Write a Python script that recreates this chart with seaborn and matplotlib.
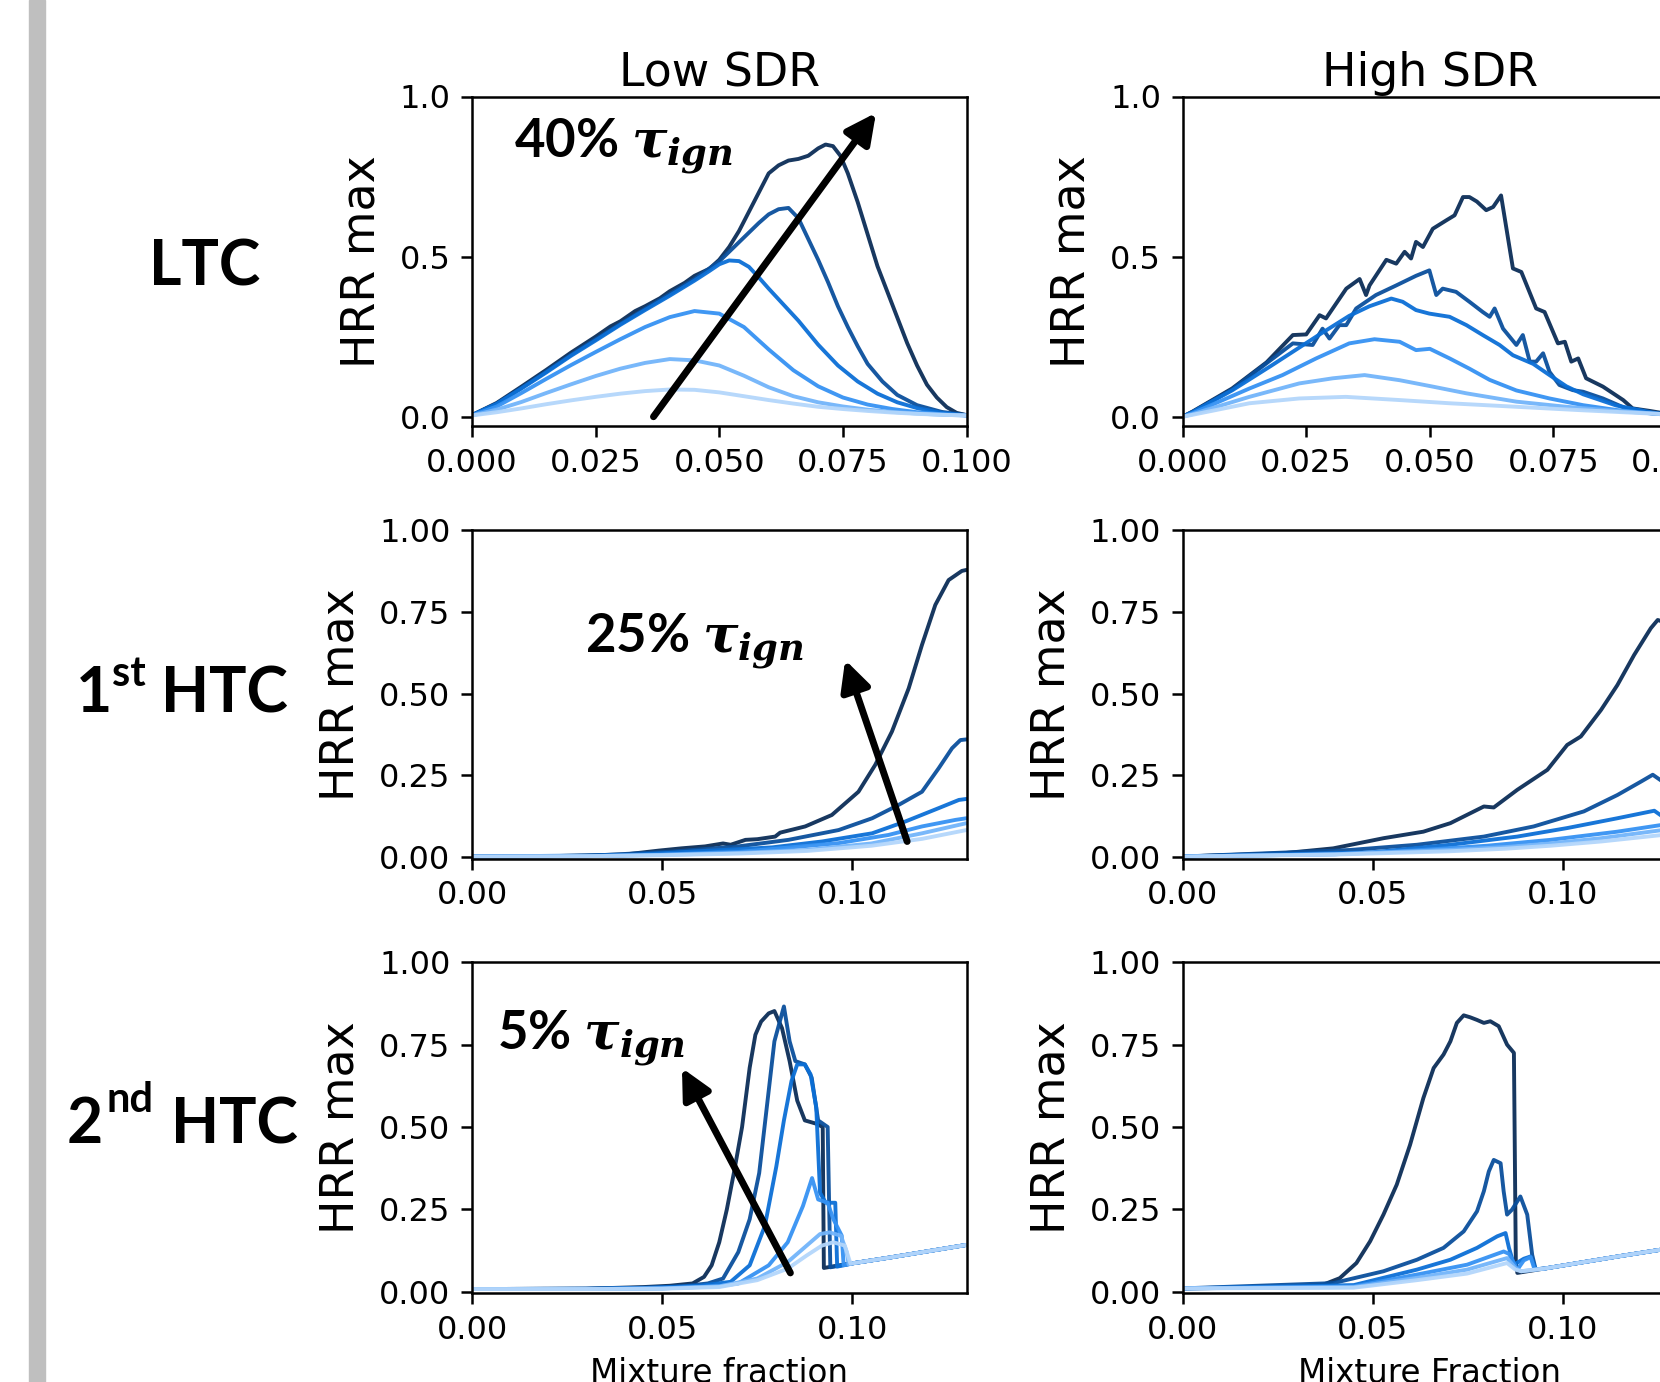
import pandas as pd
import matplotlib.pyplot as plt
from matplotlib.patches import Rectangle
import seaborn as sns

# HRR max vs mixture fraction, curves listed from lightest (earliest) to darkest (latest)
stages = ["t1", "t2", "t3", "t4", "t5", "t6"]
stage_colors = ["#b3d6fb", "#72b4fa", "#3592f3", "#0b6fd6", "#0a4f9c", "#0b2d57"]

# ---- LTC, low SDR
ltc_low_x = [
    [0.000, 0.005, 0.010, 0.015, 0.020, 0.025, 0.030, 0.035, 0.040, 0.045, 0.050, 0.055, 0.060, 0.065, 0.070, 0.075, 0.080, 0.085, 0.090, 0.095, 0.100],
    [0.000, 0.005, 0.010, 0.015, 0.020, 0.025, 0.030, 0.035, 0.040, 0.045, 0.050, 0.055, 0.060, 0.065, 0.070, 0.075, 0.080, 0.085, 0.090, 0.095, 0.100],
    [0.000, 0.005, 0.010, 0.015, 0.020, 0.025, 0.030, 0.035, 0.040, 0.045, 0.050, 0.055, 0.060, 0.065, 0.070, 0.075, 0.080, 0.085, 0.090, 0.095, 0.100],
    [0.000, 0.005, 0.010, 0.015, 0.020, 0.025, 0.030, 0.035, 0.040, 0.045, 0.048, 0.050, 0.052, 0.054, 0.056, 0.058, 0.060, 0.063, 0.066, 0.070, 0.074, 0.078, 0.082, 0.086, 0.090, 0.095, 0.100],
    [0.000, 0.005, 0.010, 0.015, 0.020, 0.025, 0.030, 0.035, 0.040, 0.045, 0.050, 0.053, 0.056, 0.058, 0.060, 0.062, 0.064, 0.066, 0.068, 0.070, 0.072, 0.074, 0.076, 0.078, 0.080, 0.083, 0.086, 0.090, 0.095, 0.100],
    [0.000, 0.005, 0.010, 0.015, 0.020, 0.025, 0.028, 0.030, 0.033, 0.035, 0.038, 0.040, 0.043, 0.045, 0.048, 0.050, 0.052, 0.054, 0.056, 0.058, 0.060, 0.062, 0.064, 0.066, 0.068, 0.070, 0.0715, 0.073, 0.0745, 0.076, 0.078, 0.080, 0.082, 0.084, 0.086, 0.088, 0.090, 0.092, 0.094, 0.096, 0.098, 0.100],
]
ltc_low_y = [
    [0.004, 0.014, 0.026, 0.039, 0.051, 0.062, 0.072, 0.080, 0.085, 0.084, 0.076, 0.064, 0.052, 0.041, 0.031, 0.024, 0.018, 0.013, 0.009, 0.006, 0.004],
    [0.004, 0.022, 0.046, 0.074, 0.101, 0.127, 0.150, 0.168, 0.180, 0.176, 0.160, 0.128, 0.092, 0.064, 0.045, 0.032, 0.022, 0.015, 0.010, 0.006, 0.004],
    [0.004, 0.032, 0.074, 0.118, 0.161, 0.202, 0.242, 0.280, 0.311, 0.330, 0.322, 0.280, 0.210, 0.145, 0.095, 0.060, 0.038, 0.024, 0.014, 0.008, 0.004],
    [0.005, 0.040, 0.088, 0.138, 0.190, 0.238, 0.287, 0.333, 0.378, 0.425, 0.455, 0.476, 0.488, 0.486, 0.468, 0.435, 0.400, 0.350, 0.300, 0.225, 0.160, 0.110, 0.072, 0.045, 0.027, 0.012, 0.004],
    [0.005, 0.041, 0.090, 0.141, 0.193, 0.242, 0.290, 0.337, 0.383, 0.430, 0.485, 0.530, 0.575, 0.605, 0.632, 0.648, 0.652, 0.620, 0.555, 0.490, 0.420, 0.345, 0.280, 0.220, 0.165, 0.110, 0.068, 0.036, 0.015, 0.005],
    [0.005, 0.043, 0.094, 0.146, 0.200, 0.250, 0.282, 0.298, 0.330, 0.345, 0.370, 0.392, 0.418, 0.440, 0.462, 0.490, 0.530, 0.580, 0.640, 0.700, 0.760, 0.785, 0.800, 0.805, 0.815, 0.838, 0.850, 0.845, 0.815, 0.760, 0.670, 0.570, 0.470, 0.390, 0.310, 0.230, 0.160, 0.100, 0.060, 0.030, 0.012, 0.005],
]

# ---- LTC, high SDR
ltc_high_x = [
    [0.000, 0.002, 0.0135, 0.0236, 0.033, 0.0439, 0.054, 0.0675, 0.081, 0.0945, 0.100],
    [0.000, 0.002, 0.0135, 0.0236, 0.0304, 0.0368, 0.0439, 0.0506, 0.0574, 0.0675, 0.0776, 0.0877, 0.100],
    [0.000, 0.002, 0.0135, 0.0202, 0.027, 0.0337, 0.0388, 0.0439, 0.0472, 0.050, 0.054, 0.058, 0.0621, 0.0675, 0.0742, 0.081, 0.0877, 0.095, 0.100],
    [0.000, 0.002, 0.010, 0.018, 0.027, 0.0337, 0.0378, 0.0422, 0.0445, 0.0472, 0.0499, 0.054, 0.0574, 0.0607, 0.0641, 0.0668, 0.0709, 0.0742, 0.0776, 0.081, 0.0877, 0.095, 0.100],
    [0.000, 0.002, 0.010, 0.0169, 0.0223, 0.0263, 0.0283, 0.0297, 0.0317, 0.0331, 0.0351, 0.0391, 0.0432, 0.0472, 0.0499, 0.0513, 0.0526, 0.0553, 0.058, 0.0607, 0.0621, 0.0631, 0.0648, 0.0675, 0.0688, 0.0702, 0.0715, 0.0729, 0.0742, 0.0762, 0.0789, 0.081, 0.085, 0.0904, 0.095, 0.100],
    [0.000, 0.002, 0.010, 0.017, 0.0223, 0.025, 0.0277, 0.029, 0.0331, 0.0358, 0.0371, 0.0378, 0.0412, 0.0432, 0.0449, 0.0462, 0.0472, 0.0486, 0.0506, 0.0533, 0.055, 0.0567, 0.058, 0.0595, 0.0614, 0.0628, 0.0644, 0.0668, 0.0685, 0.0715, 0.0732, 0.0759, 0.0773, 0.0786, 0.080, 0.0816, 0.085, 0.0891, 0.091, 0.0945, 0.0968, 0.100],
]
ltc_high_y = [
    [0.000, 0.006, 0.042, 0.057, 0.062, 0.052, 0.042, 0.031, 0.020, 0.010, 0.006],
    [0.000, 0.008, 0.062, 0.104, 0.120, 0.130, 0.114, 0.094, 0.073, 0.047, 0.031, 0.018, 0.005],
    [0.000, 0.011, 0.088, 0.130, 0.182, 0.229, 0.242, 0.234, 0.208, 0.212, 0.182, 0.150, 0.115, 0.082, 0.057, 0.036, 0.021, 0.010, 0.004],
    [0.000, 0.014, 0.082, 0.160, 0.250, 0.315, 0.345, 0.369, 0.359, 0.333, 0.322, 0.312, 0.286, 0.255, 0.224, 0.192, 0.165, 0.130, 0.095, 0.070, 0.035, 0.013, 0.004],
    [0.000, 0.015, 0.085, 0.166, 0.229, 0.224, 0.275, 0.244, 0.286, 0.286, 0.338, 0.380, 0.410, 0.440, 0.457, 0.380, 0.400, 0.390, 0.359, 0.327, 0.312, 0.338, 0.275, 0.224, 0.255, 0.172, 0.172, 0.198, 0.140, 0.099, 0.083, 0.078, 0.057, 0.021, 0.010, 0.004],
    [0.000, 0.016, 0.088, 0.170, 0.255, 0.257, 0.317, 0.307, 0.400, 0.430, 0.380, 0.410, 0.490, 0.478, 0.515, 0.494, 0.546, 0.530, 0.587, 0.613, 0.629, 0.686, 0.686, 0.672, 0.645, 0.655, 0.691, 0.463, 0.452, 0.338, 0.327, 0.229, 0.234, 0.172, 0.182, 0.120, 0.094, 0.052, 0.026, 0.018, 0.012, 0.005],
]

# ---- 1st HTC, low SDR
htc1_low_x = [
    [0.000, 0.030, 0.050, 0.070, 0.088, 0.105, 0.1183, 0.130],
    [0.000, 0.030, 0.050, 0.070, 0.088, 0.105, 0.1183, 0.130],
    [0.000, 0.030, 0.050, 0.070, 0.0964, 0.1095, 0.1183, 0.1271, 0.130],
    [0.000, 0.040, 0.0789, 0.092, 0.1052, 0.1139, 0.1227, 0.128, 0.130],
    [0.000, 0.030, 0.0526, 0.070, 0.0832, 0.0964, 0.1052, 0.1122, 0.1183, 0.1227, 0.1262, 0.1284, 0.130],
    [0.000, 0.020, 0.040, 0.049, 0.055, 0.0613, 0.066, 0.068, 0.0719, 0.075, 0.0797, 0.081, 0.0876, 0.0946, 0.1016, 0.106, 0.1104, 0.1148, 0.1183, 0.1218, 0.1253, 0.1288, 0.130],
]
htc1_low_y = [
    [0.002, 0.003, 0.006, 0.011, 0.019, 0.035, 0.056, 0.083],
    [0.002, 0.003, 0.007, 0.013, 0.022, 0.042, 0.073, 0.104],
    [0.002, 0.003, 0.008, 0.016, 0.043, 0.068, 0.094, 0.114, 0.119],
    [0.002, 0.006, 0.030, 0.048, 0.073, 0.109, 0.150, 0.175, 0.178],
    [0.002, 0.004, 0.017, 0.033, 0.053, 0.083, 0.119, 0.160, 0.200, 0.272, 0.333, 0.358, 0.360],
    [0.002, 0.003, 0.008, 0.020, 0.027, 0.033, 0.042, 0.038, 0.053, 0.055, 0.063, 0.075, 0.094, 0.129, 0.200, 0.282, 0.384, 0.516, 0.649, 0.771, 0.847, 0.875, 0.878],
]

# ---- 1st HTC, high SDR
htc1_high_x = [
    [0.000, 0.040, 0.070, 0.085, 0.0967, 0.110, 0.1262],
    [0.000, 0.040, 0.070, 0.085, 0.0967, 0.110, 0.1262],
    [0.000, 0.040, 0.060, 0.080, 0.0967, 0.1143, 0.1262],
    [0.000, 0.050, 0.0704, 0.088, 0.1011, 0.1143, 0.124, 0.1262],
    [0.000, 0.044, 0.0616, 0.0792, 0.0923, 0.1055, 0.1143, 0.1205, 0.1236, 0.1262],
    [0.000, 0.0264, 0.0396, 0.0528, 0.0633, 0.0704, 0.0792, 0.0818, 0.088, 0.0959, 0.1011, 0.1047, 0.110, 0.1143, 0.1187, 0.1231, 0.1249, 0.1262],
]
htc1_high_y = [
    [0.002, 0.008, 0.018, 0.026, 0.035, 0.048, 0.068],
    [0.002, 0.009, 0.022, 0.031, 0.042, 0.058, 0.083],
    [0.002, 0.009, 0.020, 0.035, 0.053, 0.078, 0.099],
    [0.002, 0.015, 0.038, 0.063, 0.089, 0.119, 0.142, 0.124],
    [0.002, 0.022, 0.038, 0.063, 0.094, 0.140, 0.190, 0.231, 0.252, 0.231],
    [0.002, 0.012, 0.027, 0.058, 0.078, 0.104, 0.155, 0.152, 0.206, 0.267, 0.343, 0.369, 0.450, 0.526, 0.618, 0.700, 0.725, 0.720],
]

# ---- 2nd HTC, low SDR
htc2_low_x = [
    [0.000, 0.030, 0.050, 0.065, 0.075, 0.083, 0.088, 0.092, 0.095, 0.098, 0.0995, 0.100, 0.110, 0.120, 0.130],
    [0.000, 0.030, 0.050, 0.065, 0.075, 0.083, 0.088, 0.0915, 0.094, 0.097, 0.0985, 0.099, 0.100, 0.110, 0.120, 0.130],
    [0.000, 0.030, 0.050, 0.065, 0.070, 0.078, 0.083, 0.087, 0.0894, 0.091, 0.0935, 0.095, 0.0972, 0.0977, 0.100, 0.110, 0.120, 0.130],
    [0.000, 0.030, 0.045, 0.060, 0.068, 0.073, 0.077, 0.080, 0.082, 0.084, 0.0855, 0.0875, 0.089, 0.0905, 0.0915, 0.093, 0.0955, 0.096, 0.100, 0.110, 0.120, 0.130],
    [0.000, 0.030, 0.045, 0.055, 0.062, 0.066, 0.070, 0.073, 0.0755, 0.0775, 0.0795, 0.082, 0.0835, 0.085, 0.0875, 0.0893, 0.091, 0.0935, 0.0942, 0.100, 0.110, 0.120, 0.130],
    [0.000, 0.030, 0.045, 0.052, 0.058, 0.061, 0.063, 0.065, 0.067, 0.069, 0.071, 0.073, 0.0745, 0.076, 0.078, 0.0795, 0.0815, 0.0835, 0.0855, 0.0875, 0.0905, 0.0922, 0.0925, 0.095, 0.100, 0.110, 0.120, 0.130],
]
htc2_low_y = [
    [0.008, 0.008, 0.009, 0.014, 0.035, 0.070, 0.110, 0.140, 0.150, 0.140, 0.085, 0.086, 0.104, 0.123, 0.142],
    [0.008, 0.008, 0.010, 0.016, 0.040, 0.090, 0.140, 0.175, 0.180, 0.170, 0.120, 0.083, 0.086, 0.104, 0.123, 0.142],
    [0.008, 0.008, 0.010, 0.017, 0.025, 0.080, 0.150, 0.260, 0.345, 0.280, 0.270, 0.220, 0.170, 0.080, 0.086, 0.104, 0.123, 0.142],
    [0.008, 0.009, 0.011, 0.018, 0.030, 0.080, 0.200, 0.380, 0.520, 0.640, 0.690, 0.690, 0.660, 0.560, 0.300, 0.270, 0.270, 0.076, 0.086, 0.104, 0.123, 0.142],
    [0.008, 0.009, 0.012, 0.016, 0.025, 0.040, 0.120, 0.220, 0.360, 0.560, 0.760, 0.866, 0.760, 0.700, 0.690, 0.650, 0.520, 0.500, 0.074, 0.086, 0.104, 0.123, 0.142],
    [0.008, 0.009, 0.014, 0.018, 0.025, 0.045, 0.080, 0.150, 0.250, 0.370, 0.500, 0.680, 0.780, 0.820, 0.845, 0.852, 0.800, 0.700, 0.580, 0.520, 0.510, 0.500, 0.072, 0.077, 0.086, 0.104, 0.123, 0.142],
]

# ---- 2nd HTC, high SDR
htc2_high_x = [
    [0.000, 0.045, 0.0616, 0.0748, 0.0853, 0.0875, 0.089, 0.095, 0.105, 0.115, 0.126],
    [0.000, 0.045, 0.0616, 0.0748, 0.0853, 0.0875, 0.089, 0.095, 0.105, 0.115, 0.126],
    [0.000, 0.045, 0.0616, 0.0748, 0.0844, 0.0858, 0.088, 0.0897, 0.0915, 0.0925, 0.095, 0.105, 0.115, 0.126],
    [0.000, 0.045, 0.0616, 0.0704, 0.0774, 0.0827, 0.0849, 0.0858, 0.0871, 0.0897, 0.0915, 0.0928, 0.095, 0.105, 0.115, 0.126],
    [0.000, 0.0396, 0.0528, 0.0616, 0.0686, 0.0739, 0.0774, 0.0792, 0.0805, 0.0818, 0.0836, 0.0844, 0.0853, 0.0866, 0.0888, 0.0906, 0.0919, 0.0928, 0.095, 0.105, 0.115, 0.126],
    [0.000, 0.0264, 0.0369, 0.0413, 0.0457, 0.0493, 0.0528, 0.0563, 0.0598, 0.0633, 0.066, 0.0686, 0.0704, 0.0721, 0.0739, 0.0756, 0.0774, 0.0792, 0.0809, 0.0831, 0.0853, 0.0871, 0.0876, 0.088, 0.095, 0.105, 0.115, 0.126],
]
htc2_high_y = [
    [0.010, 0.012, 0.035, 0.055, 0.087, 0.067, 0.062, 0.070, 0.089, 0.108, 0.128],
    [0.010, 0.014, 0.042, 0.067, 0.102, 0.072, 0.062, 0.070, 0.089, 0.108, 0.128],
    [0.010, 0.016, 0.052, 0.082, 0.122, 0.115, 0.067, 0.095, 0.105, 0.068, 0.070, 0.089, 0.108, 0.128],
    [0.010, 0.020, 0.067, 0.097, 0.133, 0.168, 0.178, 0.133, 0.082, 0.100, 0.107, 0.068, 0.070, 0.089, 0.108, 0.128],
    [0.010, 0.026, 0.062, 0.097, 0.133, 0.183, 0.244, 0.305, 0.365, 0.400, 0.390, 0.305, 0.234, 0.249, 0.289, 0.234, 0.112, 0.068, 0.070, 0.089, 0.108, 0.128],
    [0.010, 0.013, 0.021, 0.041, 0.087, 0.153, 0.234, 0.325, 0.446, 0.588, 0.679, 0.720, 0.760, 0.816, 0.839, 0.833, 0.825, 0.816, 0.821, 0.806, 0.750, 0.725, 0.090, 0.057, 0.070, 0.089, 0.108, 0.128],
]

col_titles = ["Low SDR", "High SDR"]
xlabels = ["Mixture fraction", "Mixture Fraction"]
annot_text = [r"40% $\tau_{ign}$", r"25% $\tau_{ign}$", r"5% $\tau_{ign}$"]
annot_pos = [(0.0084, 0.811), (0.0296, 0.625), (0.0066, 0.735)]
arrow_tail = [(0.0367, 0.0), (0.1144, 0.048), (0.0837, 0.057)]
arrow_tip = [(0.0817, 0.949), (0.0981, 0.603), (0.0552, 0.679)]


def curves_frame(xs, ys):
    parts = []
    for st, x, y in zip(stages, xs, ys):
        parts.append(pd.DataFrame({"Z": x, "HRR": y, "stage": st}))
    return pd.concat(parts, ignore_index=True)


sns.set_style("ticks", {"axes.edgecolor": "black", "xtick.color": "black", "ytick.color": "black",
                        "text.color": "black", "axes.labelcolor": "black"})
plt.rcParams["font.family"] = ["DejaVu Sans"]
plt.rcParams["mathtext.fontset"] = "custom"
plt.rcParams["mathtext.it"] = "DejaVu Serif:italic:bold"
plt.rcParams["mathtext.rm"] = "DejaVu Serif:bold"

W, H = 1660, 1382
fig = plt.figure(figsize=(W / 100, H / 100), dpi=100)


def fx(p):
    return p / W


def fy(p):
    return 1 - p / H


# grey slide bar on the left
fig.add_artist(Rectangle((fx(29), 0), 16 / W, 1, transform=fig.transFigure, color="#bfbfbf", zorder=0))

panels = [
    [(ltc_low_x, ltc_low_y), (ltc_high_x, ltc_high_y)],
    [(htc1_low_x, htc1_low_y), (htc1_high_x, htc1_high_y)],
    [(htc2_low_x, htc2_low_y), (htc2_high_x, htc2_high_y)],
]

col_left = [472, 1182.6]
ax_w = 494.5
row_top = [96.5, 530, 962.3]
row_bot = [426, 858.5, 1293]
ylims = [(-0.029, 1.0), (-0.004, 1.0), (-0.004, 1.0)]
pal = dict(zip(stages, stage_colors))

for r in range(3):
    for c in range(2):
        ax = fig.add_axes([fx(col_left[c]), fy(row_bot[r]), ax_w / W, (row_bot[r] - row_top[r]) / H])
        xs, ys = panels[r][c]
        df = curves_frame(xs, ys)
        sns.lineplot(data=df, x="Z", y="HRR", hue="stage", hue_order=stages[::-1], palette=pal,
                     estimator=None, sort=False, legend=False, linewidth=2.8, alpha=0.95, ax=ax)
        if r == 0:
            ax.set_xlim(0, 0.1)
            ax.set_xticks([0, 0.025, 0.05, 0.075, 0.1])
            ax.set_yticks([0, 0.5, 1.0])
            ax.set_title(col_titles[c], fontsize=33, pad=7)
        else:
            ax.set_xlim(0, 0.13)
            ax.set_xticks([0, 0.05, 0.10])
            ax.set_yticks([0, 0.25, 0.5, 0.75, 1.0])
        ax.set_ylim(*ylims[r])
        ax.set_ylabel("HRR max", fontsize=33, labelpad=11)
        if r == 2:
            ax.set_xlabel(xlabels[c], fontsize=23.5, labelpad=8)
        else:
            ax.set_xlabel("")
        ax.tick_params(labelsize=23, length=8, width=1.8, pad=7.5)
        for s in ax.spines.values():
            s.set_visible(True)
            s.set_linewidth(1.8)
            s.set_color("black")

        if c == 0:
            ax.annotate("", xy=arrow_tip[r], xytext=arrow_tail[r],
                        arrowprops=dict(arrowstyle="-|>,head_length=0.9,head_width=0.45",
                                        lw=5, color="black", mutation_scale=20,
                                        shrinkA=0, shrinkB=0))
            ax.text(annot_pos[r][0], annot_pos[r][1], annot_text[r], fontsize=38,
                    fontweight="bold", family=["Lato", "DejaVu Sans"], ha="left", va="baseline")

# row labels
lab_font = ["Lato", "DejaVu Sans"]
big = 45
sup = 30
fig.text(fx(204.8), fy(286), "LTC", fontsize=big, fontweight="bold", family=lab_font,
         ha="center", va="baseline")
fig.text(fx(76), fy(712.5), "1", fontsize=big, fontweight="bold", family=lab_font,
         ha="left", va="baseline")
fig.text(fx(112), fy(686), "st", fontsize=sup, fontweight="bold", family=lab_font,
         ha="left", va="baseline")
fig.text(fx(288), fy(712.5), "HTC", fontsize=big, fontweight="bold", family=lab_font,
         ha="right", va="baseline")
fig.text(fx(67), fy(1143), "2", fontsize=big, fontweight="bold", family=lab_font,
         ha="left", va="baseline")
fig.text(fx(106), fy(1111.6), "nd", fontsize=sup, fontweight="bold", family=lab_font,
         ha="left", va="baseline")
fig.text(fx(297.5), fy(1143), "HTC", fontsize=big, fontweight="bold", family=lab_font,
         ha="right", va="baseline")

fig.savefig("out.png", dpi=100)
